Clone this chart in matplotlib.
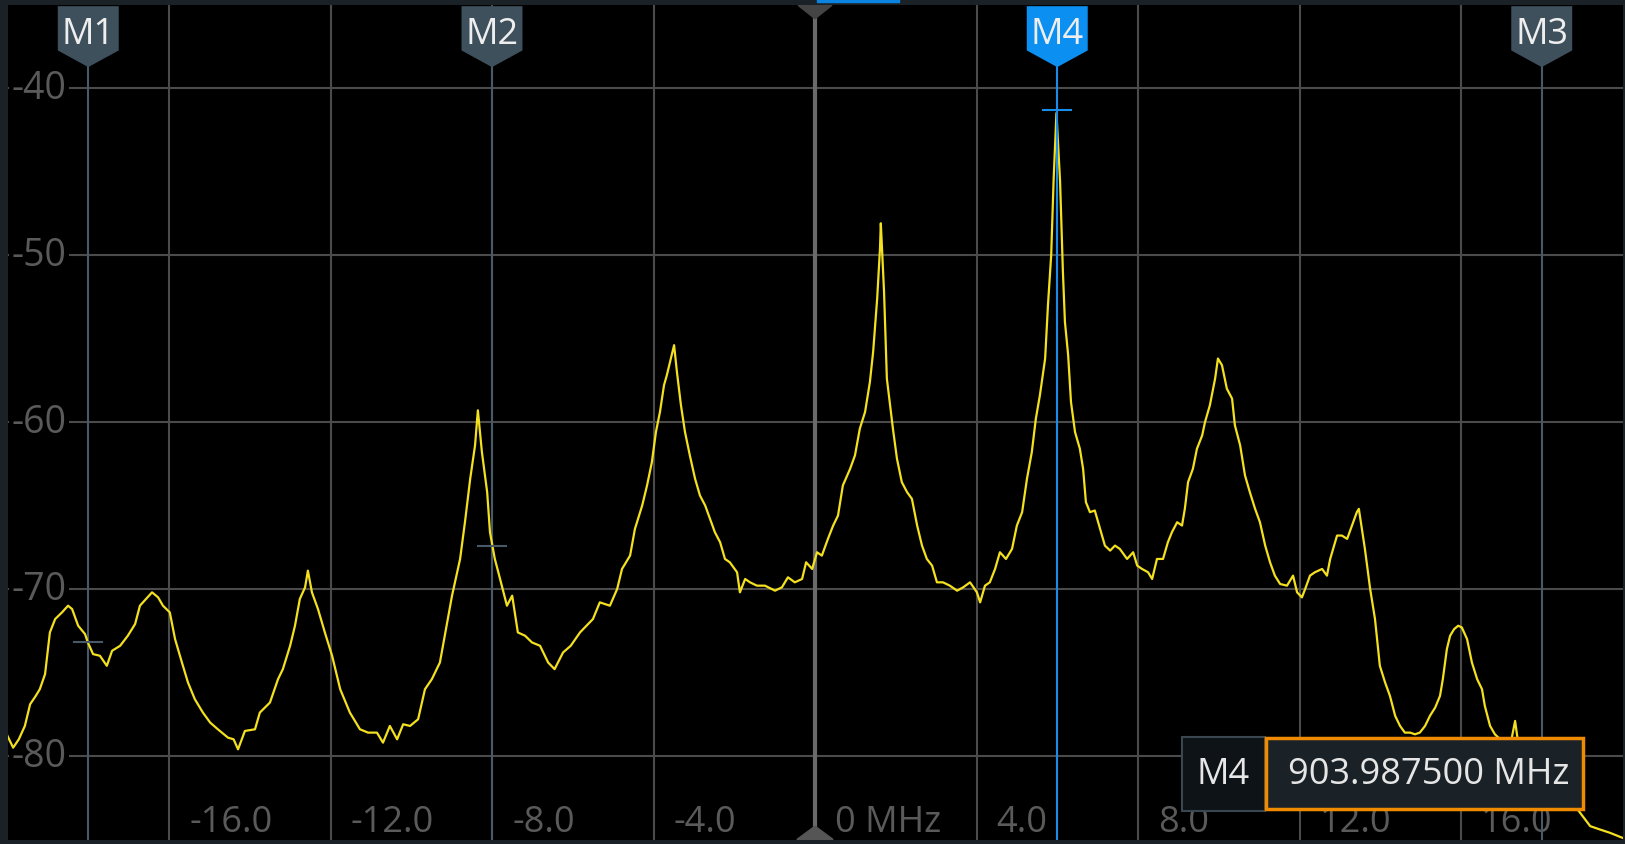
import matplotlib
matplotlib.use('Agg')
import matplotlib.pyplot as plt
from matplotlib.patches import Polygon, Rectangle

plt.rcParams['font.family'] = ['Open Sans', 'DejaVu Sans']

# trace (MHz offset from centre, dBm)
freq_mhz = [
    -20.00, -19.86, -19.72, -19.57, -19.44, -19.30, -19.20, -19.07, -18.95, -18.82,
    -18.65, -18.50, -18.40, -18.25, -18.08, -18.01, -17.88, -17.71, -17.54, -17.41,
    -17.21, -17.02, -16.84, -16.72, -16.57, -16.42, -16.27, -16.15, -15.98, -15.85,
    -15.68, -15.53, -15.36, -15.16, -14.98, -14.79, -14.54, -14.40, -14.29, -14.12,
    -13.87, -13.75, -13.50, -13.30, -13.18, -13.00, -12.88, -12.76, -12.63, -12.56,
    -12.46, -12.31, -12.14, -11.96, -11.76, -11.52, -11.27, -11.07, -10.85, -10.70,
    -10.53, -10.35, -10.20, -10.03, -9.83, -9.66, -9.49, -9.29, -9.14, -8.99,
    -8.79, -8.67, -8.54, -8.42, -8.35, -8.25, -8.12, -8.05, -7.93, -7.80,
    -7.63, -7.50, -7.36, -7.18, -7.01, -6.81, -6.61, -6.45, -6.24, -6.05,
    -5.82, -5.50, -5.33, -5.08, -4.90, -4.78, -4.58, -4.46, -4.28, -4.16,
    -4.04, -3.94, -3.84, -3.74, -3.67, -3.57, -3.49, -3.42, -3.32, -3.22,
    -3.10, -2.97, -2.85, -2.72, -2.60, -2.48, -2.35, -2.23, -2.11, -1.93,
    -1.86, -1.73, -1.61, -1.44, -1.24, -0.99, -0.82, -0.67, -0.50, -0.32,
    -0.22, -0.07, 0.05, 0.17, 0.32, 0.45, 0.57, 0.69, 0.87, 0.99,
    1.11, 1.24, 1.36, 1.44, 1.54, 1.61, 1.63, 1.71, 1.78, 1.86,
    1.93, 2.03, 2.15, 2.28, 2.40, 2.53, 2.65, 2.77, 2.90, 3.02,
    3.17, 3.34, 3.52, 3.67, 3.84, 4.01, 4.09, 4.21, 4.33, 4.46,
    4.58, 4.73, 4.88, 5.00, 5.13, 5.25, 5.37, 5.47, 5.57, 5.70,
    5.77, 5.85, 5.91, 5.98, 6.07, 6.14, 6.19, 6.27, 6.34, 6.44,
    6.56, 6.64, 6.71, 6.81, 6.93, 7.06, 7.18, 7.31, 7.43, 7.55,
    7.73, 7.88, 7.98, 8.10, 8.25, 8.35, 8.47, 8.62, 8.74, 8.84,
    8.97, 9.09, 9.16, 9.24, 9.36, 9.46, 9.59, 9.66, 9.78, 9.91,
    9.98, 10.08, 10.20, 10.33, 10.40, 10.53, 10.65, 10.77, 10.90, 11.02,
    11.15, 11.27, 11.39, 11.52, 11.69, 11.84, 11.94, 12.06, 12.14, 12.26,
    12.38, 12.56, 12.68, 12.76, 12.93, 13.05, 13.18, 13.30, 13.42, 13.47,
    13.62, 13.75, 13.87, 13.99, 14.12, 14.24, 14.37, 14.49, 14.61, 14.74,
    14.86, 14.98, 15.11, 15.23, 15.36, 15.48, 15.55, 15.65, 15.73, 15.83,
    15.93, 16.02, 16.15, 16.27, 16.40, 16.52, 16.59, 16.72, 16.84, 16.97,
    17.21, 17.34, 17.46, 17.71, 18.08, 18.45, 18.70, 18.95, 19.20, 19.44,
    19.69, 20.00,
]
level_dbm = [
    -78.8, -79.5, -79.0, -78.2, -76.9, -76.4, -76.0, -75.1, -72.6, -71.8,
    -71.4, -71.0, -71.2, -72.2, -72.7, -73.2, -73.9, -74.0, -74.6, -73.7,
    -73.4, -72.8, -72.1, -71.0, -70.6, -70.2, -70.5, -71.0, -71.4, -73.0,
    -74.4, -75.6, -76.6, -77.4, -78.0, -78.4, -78.9, -79.0, -79.6, -78.5,
    -78.4, -77.4, -76.8, -75.4, -74.8, -73.4, -72.2, -70.6, -69.9, -68.9,
    -70.2, -71.2, -72.6, -74.0, -76.0, -77.4, -78.4, -78.6, -78.6, -79.2,
    -78.2, -79.0, -78.1, -78.2, -77.8, -76.0, -75.4, -74.4, -72.4, -70.4,
    -68.2, -66.0, -63.4, -61.4, -59.3, -61.8, -64.2, -66.6, -68.2, -69.4,
    -71.0, -70.4, -72.6, -72.8, -73.2, -73.4, -74.4, -74.8, -73.8, -73.4,
    -72.6, -71.8, -70.8, -71.0, -70.0, -68.8, -68.0, -66.4, -65.0, -63.8,
    -62.4, -60.6, -59.4, -57.8, -57.2, -56.2, -55.4, -57.0, -59.0, -60.6,
    -62.0, -63.4, -64.4, -65.0, -65.8, -66.6, -67.2, -68.2, -68.4, -69.0,
    -70.2, -69.4, -69.6, -69.8, -69.8, -70.1, -69.9, -69.3, -69.6, -69.4,
    -68.4, -68.8, -67.8, -68.0, -67.0, -66.2, -65.6, -63.8, -62.8, -62.0,
    -60.4, -59.4, -57.6, -55.8, -52.6, -49.6, -48.1, -52.2, -57.4, -59.0,
    -60.4, -62.2, -63.6, -64.2, -64.6, -66.2, -67.4, -68.2, -68.6, -69.6,
    -69.6, -69.8, -70.1, -69.9, -69.6, -70.2, -70.8, -69.8, -69.6, -68.8,
    -67.8, -68.2, -67.6, -66.2, -65.4, -63.4, -61.8, -59.8, -58.4, -56.2,
    -53.0, -50.0, -45.5, -41.5, -45.6, -51.0, -54.0, -56.0, -58.8, -60.6,
    -61.6, -62.8, -64.8, -65.4, -65.3, -66.4, -67.4, -67.7, -67.4, -67.6,
    -68.2, -67.8, -68.6, -68.8, -69.0, -69.4, -68.2, -68.2, -67.2, -66.6,
    -66.0, -66.2, -65.2, -63.6, -62.8, -61.6, -60.8, -60.0, -59.0, -57.4,
    -56.2, -56.6, -58.0, -58.6, -60.2, -61.4, -63.2, -64.2, -65.2, -66.0,
    -67.4, -68.4, -69.2, -69.7, -69.8, -69.2, -70.2, -70.5, -70.0, -69.2,
    -69.0, -68.8, -69.2, -68.2, -66.8, -66.8, -67.0, -66.2, -65.4, -65.2,
    -67.6, -70.0, -71.8, -74.6, -75.6, -76.4, -77.6, -78.2, -78.6, -78.6,
    -78.7, -78.6, -78.2, -77.6, -77.1, -76.4, -75.4, -73.6, -72.8, -72.4,
    -72.2, -72.3, -73.0, -74.4, -75.4, -76.0, -77.0, -78.2, -78.7, -79.0,
    -79.5, -77.9, -80.0, -80.6, -81.2, -82.0, -82.6, -83.4, -84.2, -84.4,
    -84.6, -84.9,
]

x_ticks = [-16, -12, -8, -4, 4, 8, 12, 16]
x_labels = ['-16.0', '-12.0', '-8.0', '-4.0', '0 MHz', '4.0', '8.0', '12.0', '16.0']
x_label_pos = [-16, -12, -8, -4, 0, 4, 8, 12, 16]
y_ticks = [-40, -50, -60, -70, -80]

marker_names = ['M1', 'M2', 'M3', 'M4']
marker_freq = [-18.0, -8.0, 18.0, 6.0]
marker_level = [-73.2, -67.4, -81.2, -41.3]
active_marker = 'M4'
readout_text = '903.987500 MHz'

grid_col = '#4b4b4b'
mk_col = '#485968'
flag_col = '#3f505d'
act_col = '#1a8ce8'
trace_col = '#f3e01e'
lab_col = '#5a5a5a'

fig = plt.figure(figsize=(16.25, 8.45), dpi=100, facecolor='#1a2228')
ax = fig.add_axes([7.5 / 1625, 4.5 / 845, 1615 / 1625, 835 / 845])
ax.set_facecolor('black')
ax.set_xlim(-20, 20)
ax.set_ylim(-85, -35)
for s in ax.spines.values():
    s.set_visible(False)
ax.set_xticks(x_ticks)
ax.set_yticks(y_ticks)
ax.tick_params(length=0, labelbottom=False, labelleft=False)
ax.grid(True, color=grid_col, lw=1.5)
ax.set_axisbelow(True)

# centre line with its little triangles
ax.axvline(0, color='#6a6a6a', lw=3, zorder=1)
ax.add_patch(Polygon([(-0.42, -35.05), (0.42, -35.05), (0, -35.85)],
                     closed=True, color='#444444', zorder=2))
ax.add_patch(Polygon([(-0.45, -85), (0.45, -85), (0, -84.2)],
                     closed=True, color='#555555', zorder=2))

# y labels inside plot, on black so the grid stops at them
for v in y_ticks:
    ax.text(-19.9, v, str(v), color=lab_col, fontsize=27, ha='left', va='center',
            bbox=dict(facecolor='black', edgecolor='none', pad=1.5), zorder=3)

for xp, lab in zip(x_label_pos, x_labels):
    ax.text(xp + 0.5, -83.95, lab, color=lab_col, fontsize=26, ha='left',
            va='center', zorder=3)

# marker lines (inactive under the trace)
for name, mf in zip(marker_names, marker_freq):
    if name == active_marker:
        ax.plot([mf, mf], [-38.75, -85], color=act_col, lw=1.5, zorder=6)
    else:
        ax.plot([mf, mf], [-38.75, -85], color=mk_col, lw=1.5, zorder=4)

ax.plot(freq_mhz, level_dbm, color=trace_col, lw=1.6, zorder=5)

# marker crosses and flags
for name, mf, ml in zip(marker_names, marker_freq, marker_level):
    c = act_col if name == active_marker else mk_col
    fc = '#0b8ff0' if name == active_marker else flag_col
    ax.plot([mf - 0.35, mf + 0.35], [ml, ml], color=c, lw=1.5, zorder=7)
    w = 0.755
    ax.add_patch(Polygon([(mf - w, -35.1), (mf + w, -35.1), (mf + w, -37.75),
                          (mf, -38.75), (mf - w, -37.75)], closed=True,
                         facecolor=fc, edgecolor='none', zorder=8))
    ax.text(mf, -36.75, name, color='#eeeeee', fontsize=26, ha='center',
            va='center', zorder=9)

# readout box
ax.add_patch(Rectangle((9.09, -83.3), 2.06, 4.44, facecolor='#0d1317',
                       edgecolor='#3a4650', lw=1.5, zorder=10))
ax.add_patch(Rectangle((11.17, -83.2), 7.85, 4.25, facecolor='#1b2227',
                       edgecolor='#f08a00', lw=2.5, zorder=11))
ax.text(10.1, -81.05, active_marker, color='#e6e6e6', fontsize=26, ha='center',
        va='center', zorder=12)
ax.text(15.2, -81.05, readout_text, color='#e6e6e6', fontsize=26, ha='center',
        va='center', zorder=12)

# blue tab on the top strip
fig.patches.append(Rectangle((817 / 1625, 842 / 845), 82 / 1625, 3 / 845,
                             transform=fig.transFigure, color='#0a84e0'))

fig.savefig('out.png', dpi=100, facecolor=fig.get_facecolor())
